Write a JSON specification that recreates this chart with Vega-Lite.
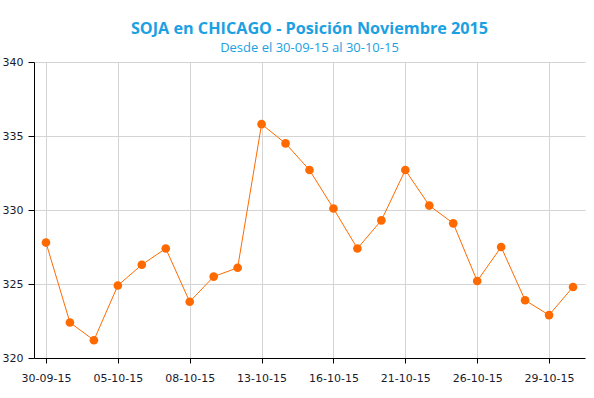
{
  "$schema": "https://vega.github.io/schema/vega-lite/v6.json",
  "autosize": "none",
  "width": 551,
  "height": 296,
  "padding": {"left": 34, "top": 62, "right": 9, "bottom": 40},
  "background": "white",
  "title": {
    "text": "SOJA en CHICAGO - Posición Noviembre 2015",
    "subtitle": "Desde el 30-09-15 al 30-10-15",
    "anchor": "middle",
    "frame": "group",
    "font": "Open Sans",
    "fontSize": 16.2,
    "fontWeight": "bold",
    "color": "#1BA1E2",
    "subtitleFont": "Open Sans",
    "subtitleFontSize": 13,
    "subtitleColor": "#1BA1E2",
    "subtitlePadding": 5,
    "offset": 1
  },
  "config": {
    "view": {"stroke": null},
    "axis": {
      "labelFont": "DejaVu Sans",
      "labelFontSize": 11,
      "labelColor": "#1a1a2e",
      "domainColor": "#000000",
      "tickColor": "#000000",
      "gridColor": "#d4d4d4",
      "gridWidth": 1,
      "titleFont": "DejaVu Sans"
    }
  },
  "data": {
    "values": [
      {"fecha": "30-09-15", "precio": 327.8},
      {"fecha": "01-10-15", "precio": 322.4},
      {"fecha": "02-10-15", "precio": 321.2},
      {"fecha": "05-10-15", "precio": 324.9},
      {"fecha": "06-10-15", "precio": 326.3},
      {"fecha": "07-10-15", "precio": 327.4},
      {"fecha": "08-10-15", "precio": 323.8},
      {"fecha": "09-10-15", "precio": 325.5},
      {"fecha": "12-10-15", "precio": 326.1},
      {"fecha": "13-10-15", "precio": 335.8},
      {"fecha": "14-10-15", "precio": 334.5},
      {"fecha": "15-10-15", "precio": 332.7},
      {"fecha": "16-10-15", "precio": 330.1},
      {"fecha": "19-10-15", "precio": 327.4},
      {"fecha": "20-10-15", "precio": 329.3},
      {"fecha": "21-10-15", "precio": 332.7},
      {"fecha": "22-10-15", "precio": 330.3},
      {"fecha": "23-10-15", "precio": 329.1},
      {"fecha": "26-10-15", "precio": 325.2},
      {"fecha": "27-10-15", "precio": 327.5},
      {"fecha": "28-10-15", "precio": 323.9},
      {"fecha": "29-10-15", "precio": 322.9},
      {"fecha": "30-10-15", "precio": 324.8}
    ]
  },
  "encoding": {
    "x": {
      "field": "fecha",
      "type": "ordinal",
      "sort": null,
      "scale": {"type": "point", "padding": 0.5},
      "axis": {
        "title": null,
        "labelAngle": 0,
        "values": ["30-09-15", "05-10-15", "08-10-15", "13-10-15", "16-10-15", "21-10-15", "26-10-15", "29-10-15"],
        "grid": true,
        "tickSize": 5,
        "labelPadding": 9
      }
    },
    "y": {
      "field": "precio",
      "type": "quantitative",
      "scale": {"domain": [320, 340], "nice": false, "zero": false},
      "axis": {
        "title": null,
        "values": [320, 325, 330, 335, 340],
        "tickSize": 6,
        "labelPadding": 5,
        "grid": true
      }
    }
  },
  "layer": [
    {"mark": {"type": "line", "color": "#FF6A00", "strokeWidth": 1}},
    {"mark": {"type": "point", "filled": true, "color": "#FF6A00", "opacity": 1, "size": 75}}
  ]
}
